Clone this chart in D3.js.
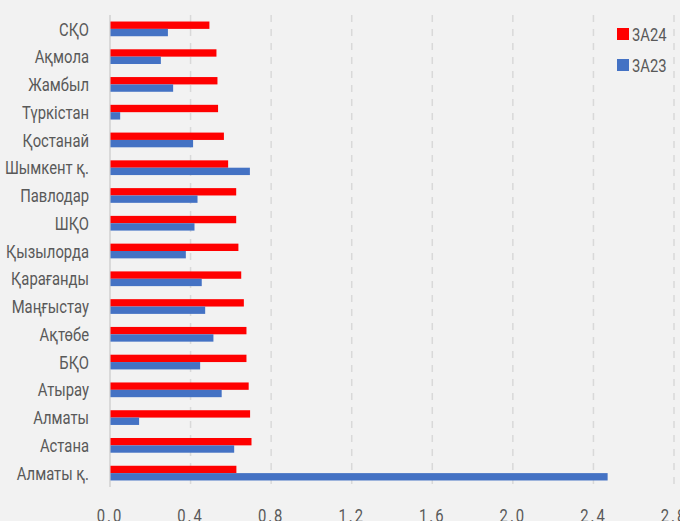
<!DOCTYPE html>
<html><head><meta charset="utf-8">
<script src="https://cdn.jsdelivr.net/npm/d3@7/dist/d3.min.js"></script>
<style>
html,body{margin:0;padding:0;background:#f2f2f2;overflow:hidden}
svg{display:block}
text{font-family:Roboto,"Noto Sans",sans-serif;fill:#595959}
</style></head><body>
<svg id="c" width="680" height="521"></svg>
<script>
const categories = ["СҚО","Ақмола","Жамбыл","Түркістан","Қостанай","Шымкент қ.","Павлодар","ШҚО","Қызылорда","Қарағанды","Маңғыстау","Ақтөбе","БҚО","Атырау","Алматы","Астана","Алматы қ."];
const seriesNames = ["3A24","3A23"];
const za24 = [0.491,0.526,0.531,0.534,0.563,0.584,0.624,0.624,0.635,0.649,0.662,0.675,0.675,0.686,0.693,0.700,0.625];
const za23 = [0.285,0.250,0.311,0.048,0.410,0.692,0.432,0.417,0.374,0.453,0.470,0.511,0.445,0.552,0.142,0.614,2.468];
const xTicks = [0.0,0.4,0.8,1.2,1.6,2.0,2.4,2.8];
const colors = ["#ff0000","#4472c4"];

const svg = d3.select("#c");
const m = {left:110, top:15, right:674, bottom:487};
const x = d3.scaleLinear().domain([0,2.8]).range([m.left, m.right]);
const y = d3.scaleBand().domain(categories).range([m.top, m.bottom]).paddingInner(0.47).paddingOuter(0.235);
const sub = d3.scaleBand().domain(seriesNames).range([0, y.bandwidth()]);

// gridlines
svg.append("g").selectAll("line").data(xTicks.slice(1)).join("line")
  .attr("x1", d=>x(d)).attr("x2", d=>x(d)).attr("y1", m.top).attr("y2", m.bottom)
  .attr("stroke","#d9d9d9").attr("stroke-width",1.5).attr("stroke-dasharray","7,7");
svg.append("line").attr("x1",x(0)).attr("x2",x(0)).attr("y1",m.top).attr("y2",m.bottom)
  .attr("stroke","#d0d0d0").attr("stroke-width",1.5);

const data = [za24, za23];
data.forEach((vals, si) => {
  svg.append("g").selectAll("rect").data(vals).join("rect")
    .attr("x", x(0)+0.5)
    .attr("y", (d,i)=> y(categories[i]) + sub(seriesNames[si]))
    .attr("width", d=> x(d)-x(0))
    .attr("height", sub.bandwidth())
    .attr("fill", colors[si]);
});

// category labels
const sx = 0.8;
svg.append("g").selectAll("text").data(categories).join("text")
  .attr("transform", d=>`translate(89,${y(d)+y.bandwidth()/2}) scale(${sx},1)`)
  .attr("text-anchor","end").attr("dy","0.36em")
  .style("font-size","18.5px").text(d=>d);

// x tick labels
svg.append("g").selectAll("text").data(xTicks).join("text")
  .attr("transform", d=>`translate(${x(d)},522) scale(${sx},1)`)
  .attr("text-anchor","middle").style("font-size","18.5px").style("letter-spacing","2.5px")
  .text(d=>d.toFixed(1));

// legend
const lg = svg.append("g");
seriesNames.forEach((s,i)=>{
  lg.append("rect").attr("x",617).attr("y",28+i*31).attr("width",12).attr("height",12).attr("fill",colors[i]);
  lg.append("text").attr("transform",`translate(632,${34+i*31}) scale(${sx},1)`).attr("dy","0.36em")
    .style("font-size","18.5px").text(s);
});
</script>
</body></html>
